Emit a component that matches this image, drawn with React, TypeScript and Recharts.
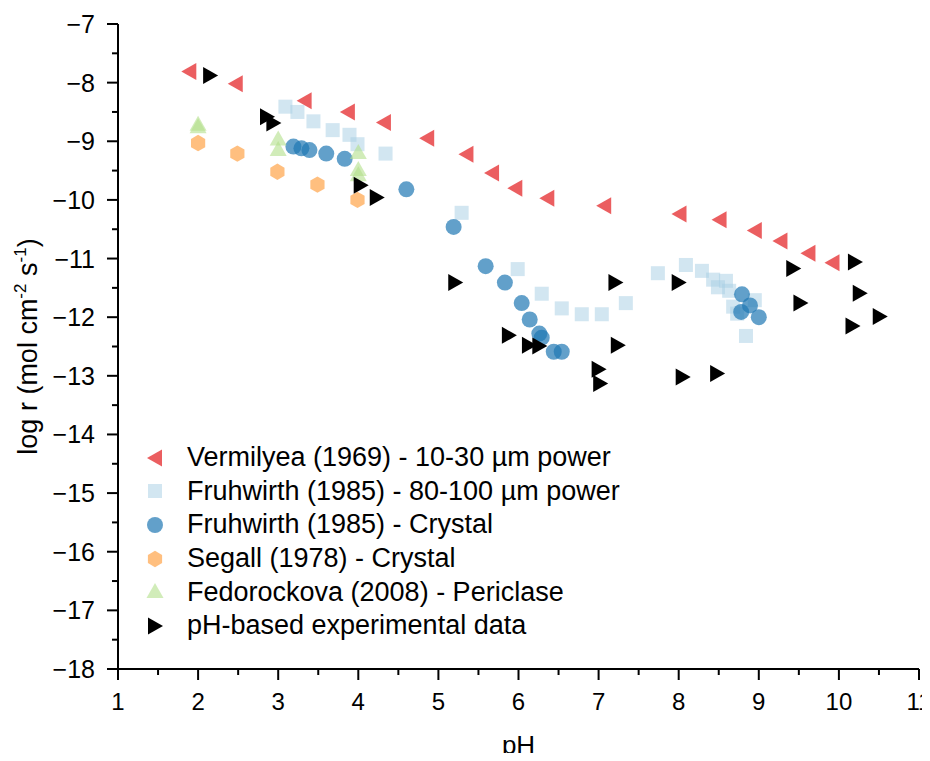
import { ScatterChart, Scatter, XAxis, YAxis, Legend } from "recharts";

const FONT = "'Liberation Sans', Arial, sans-serif";

// Vermilyea (1969) - 10-30 um powder
const vermilyeaPH = [1.89, 2.47, 3.33, 3.87, 4.32, 4.86, 5.35, 5.67, 5.96, 6.36, 7.07, 8.01, 8.51, 8.95, 9.27, 9.62, 9.92];
const vermilyeaLogR = [-7.81, -8.02, -8.31, -8.5, -8.68, -8.95, -9.22, -9.54, -9.8, -9.97, -10.1, -10.24, -10.34, -10.52, -10.7, -10.91, -11.07];

// Fruhwirth (1985) - 80-100 um powder
const fruhPowderPH = [3.09, 3.24, 3.44, 3.68, 3.89, 3.99, 4.34, 5.29, 5.99, 6.29, 6.54, 6.79, 7.04, 7.34, 7.74, 8.09, 8.29, 8.43, 8.59, 8.49, 8.63, 8.95, 8.68, 8.73, 8.84];
const fruhPowderLogR = [-8.41, -8.5, -8.66, -8.81, -8.89, -9.05, -9.21, -10.22, -11.18, -11.6, -11.85, -11.95, -11.95, -11.76, -11.25, -11.11, -11.21, -11.36, -11.38, -11.49, -11.55, -11.71, -11.82, -11.94, -12.32];

// Fruhwirth (1985) - Crystal
const fruhCrystalPH = [3.19, 3.29, 3.39, 3.6, 3.83, 4.6, 5.19, 5.59, 5.83, 6.04, 6.14, 6.26, 6.29, 6.44, 6.54, 8.79, 8.89, 8.78, 9.0];
const fruhCrystalLogR = [-9.09, -9.12, -9.15, -9.21, -9.3, -9.82, -10.46, -11.13, -11.41, -11.76, -12.04, -12.28, -12.35, -12.59, -12.59, -11.61, -11.8, -11.91, -12.0];

// Segall (1978) - Crystal
const segallPH = [2.0, 2.49, 2.99, 3.49, 3.99];
const segallLogR = [-9.03, -9.21, -9.52, -9.74, -10.0];

// Fedorockova (2008) - Periclase
const fedorPH = [2.0, 2.0, 3.0, 3.0, 4.0, 4.0, 4.0];
const fedorLogR = [-8.72, -8.76, -8.97, -9.15, -9.2, -9.49, -9.58];

// pH-based experimental data
const expPH = [2.15, 2.86, 2.94, 4.03, 4.23, 5.21, 7.21, 8.0, 5.88, 6.13, 6.26, 7.24, 7.0, 7.02, 8.05, 8.48, 9.43, 10.2, 9.52, 10.26, 10.17, 10.51];
const expLogR = [-7.88, -8.58, -8.69, -9.75, -9.96, -11.41, -11.41, -11.41, -12.31, -12.48, -12.49, -12.48, -12.89, -13.13, -13.02, -12.96, -11.17, -11.06, -11.76, -11.59, -12.15, -11.99];

const xTicks = [1, 1.5, 2, 2.5, 3, 3.5, 4, 4.5, 5, 5.5, 6, 6.5, 7, 7.5, 8, 8.5, 9, 9.5, 10, 10.5, 11];
const yTicks = [-18, -17.5, -17, -16.5, -16, -15.5, -15, -14.5, -14, -13.5, -13, -12.5, -12, -11.5, -11, -10.5, -10, -9.5, -9, -8.5, -8, -7.5, -7];

const zip = (xs: number[], ys: number[]) => xs.map((x, i) => ({ x, y: ys[i] }));

type Mark = "left" | "right" | "up" | "square" | "circle" | "hex";

const drawMark = (kind: Mark, cx: number, cy: number, fill: string, op: number) => {
  switch (kind) {
    case "left":
      return <polygon points={`${cx - 8},${cy} ${cx + 7},${cy - 8.5} ${cx + 7},${cy + 8.5}`} fill={fill} fillOpacity={op} />;
    case "right":
      return <polygon points={`${cx + 8},${cy} ${cx - 7},${cy - 8.5} ${cx - 7},${cy + 8.5}`} fill={fill} fillOpacity={op} />;
    case "up":
      return <polygon points={`${cx},${cy - 9} ${cx - 8.5},${cy + 6} ${cx + 8.5},${cy + 6}`} fill={fill} fillOpacity={op} />;
    case "square":
      return <rect x={cx - 7} y={cy - 7} width={14} height={14} fill={fill} fillOpacity={op} />;
    case "circle":
      return <circle cx={cx} cy={cy} r={8} fill={fill} fillOpacity={op} />;
    case "hex": {
      const pts = [0, 60, 120, 180, 240, 300]
        .map((a) => {
          const r = (a - 90) * (Math.PI / 180);
          return `${cx + 8.2 * Math.cos(r)},${cy + 8.2 * Math.sin(r)}`;
        })
        .join(" ");
      return <polygon points={pts} fill={fill} fillOpacity={op} />;
    }
  }
};

const SERIES: { name: string; data: { x: number; y: number }[]; mark: Mark; color: string; op: number }[] = [
  { name: "Vermilyea (1969) - 10-30 µm power", data: zip(vermilyeaPH, vermilyeaLogR), mark: "left", color: "#e31a1c", op: 0.7 },
  { name: "Fruhwirth (1985) - 80-100 µm power", data: zip(fruhPowderPH, fruhPowderLogR), mark: "square", color: "#a6cee3", op: 0.5 },
  { name: "Fruhwirth (1985) - Crystal", data: zip(fruhCrystalPH, fruhCrystalLogR), mark: "circle", color: "#1f78b4", op: 0.7 },
  { name: "Segall (1978) - Crystal", data: zip(segallPH, segallLogR), mark: "hex", color: "#ff7f00", op: 0.5 },
  { name: "Fedorockova (2008) - Periclase", data: zip(fedorPH, fedorLogR), mark: "up", color: "#b2df8a", op: 0.6 },
  { name: "pH-based experimental data", data: zip(expPH, expLogR), mark: "right", color: "#000000", op: 1 },
];

const XTick = (props: any) => {
  const { x, y, payload } = props;
  const major = Number.isInteger(payload.value);
  return (
    <g>
      <line x1={x} x2={x} y1={y} y2={y + (major ? 11 : 6)} stroke="#000" strokeWidth={2} />
      {major && (
        <text x={x} y={y + 41} textAnchor="middle" fontSize={24} fontFamily={FONT} fill="#000">
          {payload.value}
        </text>
      )}
    </g>
  );
};

const YTick = (props: any) => {
  const { x, y, payload } = props;
  const major = Number.isInteger(payload.value);
  const label = String(payload.value).replace("-", "\u2212");
  return (
    <g>
      <line x1={x - (major ? 11 : 6)} x2={x} y1={y} y2={y} stroke="#000" strokeWidth={2} />
      {major && (
        <text x={x - 23} y={y + 9} textAnchor="end" fontSize={25} fontFamily={FONT} fill="#000">
          {label}
        </text>
      )}
    </g>
  );
};

const YTitle = (props: any) => {
  const vb = props.viewBox;
  const cy = vb.y + vb.height / 2;
  const tx = 37;
  return (
    <text transform={`rotate(-90, ${tx}, ${cy})`} x={tx} y={cy} textAnchor="middle" fontSize={27} fontFamily={FONT} fill="#000">
      log r (mol cm
      <tspan fontSize={17} dy={-11}>-2</tspan>
      <tspan dy={11}> s</tspan>
      <tspan fontSize={17} dy={-11}>-1</tspan>
      <tspan dy={11}>)</tspan>
    </text>
  );
};

const PHLabel = (props: any) => {
  const vb = props.viewBox;
  return (
    <text x={vb.x + vb.width / 2} y={754} textAnchor="middle" fontSize={26} fontFamily={FONT} fill="#000">
      pH
    </text>
  );
};

const renderLegend = () => (
  <div style={{ fontFamily: FONT, fontSize: 27, color: "#000" }}>
    {SERIES.map((s) => (
      <div key={s.name} style={{ display: "flex", alignItems: "center", height: 33.6, whiteSpace: "nowrap" }}>
        <svg width={20} height={20} style={{ marginRight: 22, flex: "none" }}>
          {drawMark(s.mark, 10, 10, s.color, s.op)}
        </svg>
        <span>{s.name}</span>
      </div>
    ))}
  </div>
);

export default function App() {
  return (
    // cancel the body margin so the chart can use the full window
    <div style={{ margin: -8, width: 930, height: 761, overflow: "hidden" }}>
      <ScatterChart width={930} height={761} margin={{ top: 24, right: 11, left: 0, bottom: 32 }}>
        <XAxis
          type="number"
          dataKey="x"
          domain={[1, 11]}
          ticks={xTicks}
          interval={0}
          tickLine={false}
          tickSize={0}
          tickMargin={0}
          tick={<XTick />}
          axisLine={{ stroke: "#000", strokeWidth: 2 }}
          height={60}
          label={<PHLabel />}
          allowDataOverflow
        />
        <YAxis
          type="number"
          dataKey="y"
          domain={[-18, -7]}
          ticks={yTicks}
          interval={0}
          tickLine={false}
          tickSize={0}
          tickMargin={0}
          tick={<YTick />}
          axisLine={{ stroke: "#000", strokeWidth: 2 }}
          width={118}
          label={<YTitle />}
          allowDataOverflow
        />
        <Legend
          content={renderLegend}
          layout="vertical"
          align="center"
          verticalAlign="middle"
          wrapperStyle={{ position: "absolute", left: 145, top: 441, width: "auto" }}
        />
        {SERIES.map((s) => (
          <Scatter
            key={s.name}
            name={s.name}
            data={s.data}
            isAnimationActive={false}
            shape={(p: any) => drawMark(s.mark, p.cx, p.cy, s.color, s.op)}
          />
        ))}
      </ScatterChart>
    </div>
  );
}
